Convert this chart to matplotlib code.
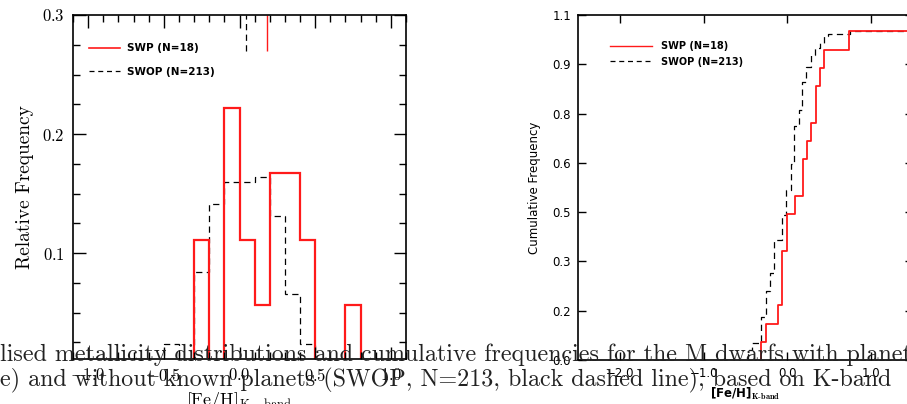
import numpy as np
import matplotlib
matplotlib.use("Agg")
import matplotlib.pyplot as plt
from matplotlib.ticker import MultipleLocator
from matplotlib.lines import Line2D

plt.rcParams['font.family'] = ['cmr10', 'DejaVu Serif']
plt.rcParams['mathtext.fontset'] = 'cm'
plt.rcParams['axes.formatter.use_mathtext'] = True

# histogram of [Fe/H] (fraction per 0.1 dex bin)
bin_edges = np.round(np.arange(-0.6, 0.81, 0.1), 2)
swp_frac = [0, 0, 0, 0.111, 0, 0.222, 0.111, 0.056, 0.167, 0.167, 0.111, 0, 0, 0.056]
swop_frac = [0, 0.0235, 0.009, 0.0845, 0.141, 0.160, 0.160, 0.164, 0.1315, 0.0657, 0.0235, 0, 0, 0]
swp_mean = 0.18
swop_mean = 0.04

# cumulative distributions (step positions and values after each step)
swp_steps = [-0.32, -0.25, -0.11, -0.06, -0.01, 0.095, 0.187, 0.24, 0.286, 0.34, 0.385, 0.44, 0.73]
swp_cum = [0.056, 0.111, 0.167, 0.333, 0.444, 0.5, 0.611, 0.667, 0.722, 0.833, 0.889, 0.944, 1.0]
swop_steps = [-0.47, -0.42, -0.31, -0.26, -0.21, -0.16, -0.06, -0.02, 0.045, 0.083, 0.135,
              0.18, 0.226, 0.28, 0.333, 0.385, 0.433, 0.49, 0.75]
swop_cum = [0.03, 0.052, 0.13, 0.21, 0.265, 0.365, 0.441, 0.517, 0.596, 0.712, 0.761,
            0.847, 0.893, 0.928, 0.949, 0.964, 0.986, 0.992, 1.0]
cum_yticks = [0.0, 0.15, 0.3, 0.45, 0.6, 0.75, 0.9, 1.05]
cum_yticklabels = ['0.0', '0.2', '0.3', '0.5', '0.6', '0.8', '0.9', '1.1']

caption = ["lised metallicity distributions and cumulative frequencies for the M dwarfs with planets",
           "e) and without known planets (SWOP, N=213, black dashed line), based on K-band"]

RED = '#ff1a1a'
fig = plt.figure(figsize=(9.07, 4.04), dpi=100)

# ---- left: relative frequency histogram
ax1 = fig.add_axes([73 / 907, 45 / 404, 333 / 907, 344 / 404])
ax1.stairs(swop_frac, bin_edges, color='black', lw=0.9, ls=(0, (5, 3.5)))
ax1.stairs(swp_frac, bin_edges, color=RED, lw=1.6)
ax1.vlines(swop_mean, 0.27, 0.3, color='black', lw=0.9, ls=(0, (5, 3.5)))
ax1.vlines(swp_mean, 0.27, 0.3, color=RED, lw=1.0)
ax1.set_xlim(-1.1, 1.1)
ax1.set_ylim(0.011, 0.3)
ax1.xaxis.set_major_locator(MultipleLocator(0.5))
ax1.xaxis.set_minor_locator(MultipleLocator(0.1))
ax1.yaxis.set_major_locator(MultipleLocator(0.1))
ax1.yaxis.set_minor_locator(MultipleLocator(0.025))
ax1.tick_params(which='both', direction='in', top=True, right=True, labelsize=12, pad=6)
ax1.tick_params(which='major', length=9, width=1)
ax1.tick_params(which='minor', length=5, width=1)
ax1.set_ylabel('Relative Frequency', fontsize=14, labelpad=6)
ax1.set_xlabel(r'$[\mathrm{Fe/H}]_{\mathrm{K-band}}$', fontsize=13, labelpad=4)
for s in ax1.spines.values():
    s.set_linewidth(1.2)
h1 = [Line2D([], [], color=RED, lw=1.2), Line2D([], [], color='black', lw=0.9, ls=(0, (4, 3)))]
ax1.legend(h1, ['SWP (N=18)', 'SWOP (N=213)'], loc='upper left', frameon=False,
           prop={'family': 'DejaVu Sans', 'weight': 'bold', 'size': 7.5},
           handlelength=3.0, handletextpad=0.6, labelspacing=1.3,
           bbox_to_anchor=(0.02, 0.945))

# ---- right: cumulative frequency
ax2 = fig.add_axes([578 / 907, 44 / 404, 335 / 907, 345 / 404])
xmax = 1.5
xs = np.r_[swop_steps[0], swop_steps, xmax]
ys = np.r_[0, swop_cum, swop_cum[-1]]
ax2.step(xs, ys, where='post', color='black', lw=0.9, ls=(0, (5, 3.5)))
xs = np.r_[swp_steps[0], swp_steps, xmax]
ys = np.r_[0, swp_cum, swp_cum[-1]]
ax2.step(xs, ys, where='post', color=RED, lw=1.3)
ax2.set_xlim(-2.5, xmax)
ax2.set_ylim(0, 1.05)
ax2.set_xticks([-2.0, -1.0, 0.0, 1.0])
ax2.set_xticklabels(['\u22122.0', '\u22121.0', '0.0', '1.0'])
ax2.set_yticks(cum_yticks)
ax2.set_yticklabels(cum_yticklabels)
ax2.tick_params(direction='in', top=True, right=True, length=6, width=1, labelsize=8.5,
                pad=5, labelfontfamily='DejaVu Sans')
ax2.set_ylabel('Cumulative Frequency', fontsize=8.5, family='DejaVu Sans', labelpad=8)
ax2.set_xlabel(r'[Fe/H]$_{\mathbf{K\text{-}band}}$', fontsize=8.5, family='DejaVu Sans',
               weight='bold', labelpad=4)
for s in ax2.spines.values():
    s.set_linewidth(1.2)
h2 = [Line2D([], [], color=RED, lw=1.0), Line2D([], [], color='black', lw=0.9, ls=(0, (4, 3)))]
ax2.legend(h2, ['SWP (N=18)', 'SWOP (N=213)'], loc='upper left', frameon=False,
           prop={'family': 'DejaVu Sans', 'weight': 'bold', 'size': 7},
           handlelength=4.3, handletextpad=0.9, labelspacing=0.6,
           bbox_to_anchor=(0.07, 0.95))

# ---- caption text lying over the panels
fig.text(0.0, 43.5 / 404, caption[0], fontsize=17.3, va='baseline', ha='left', color='#222222')
fig.text(0.0, 17.5 / 404, caption[1], fontsize=17.3, va='baseline', ha='left', color='#222222')

fig.savefig('out.png', dpi=100)
